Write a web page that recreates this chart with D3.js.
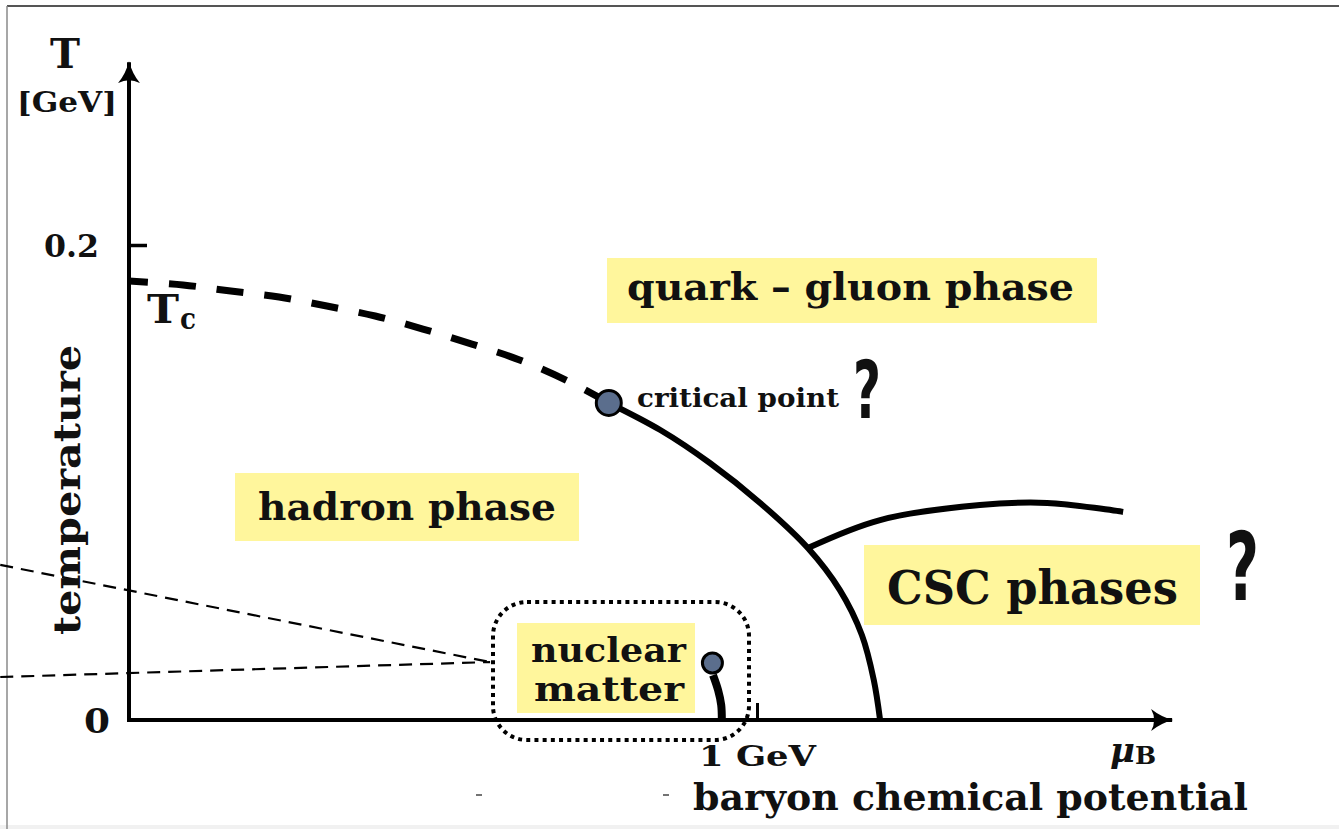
<!DOCTYPE html>
<html>
<head>
<meta charset="utf-8">
<script src="https://cdn.jsdelivr.net/npm/d3@7"></script>
<style>
  html, body { margin: 0; padding: 0; background: #fff; }
  svg { display: block; }
  text { font-family: "DejaVu Serif", serif; font-weight: bold; fill: #111; }
</style>
</head>
<body>
<div id="chart"></div>
<script>
'use strict';

// phase boundaries, [muB in GeV, T in GeV]
var crossoverLine = [[0, 0.1848], [0.086, 0.1832], [0.162, 0.1806], [0.239, 0.1781], [0.315, 0.1743],
                     [0.392, 0.1701], [0.468, 0.1646], [0.546, 0.1583], [0.622, 0.1516], [0.699, 0.1427], [0.764, 0.1335]];
var firstOrderLine = [[0.764, 0.1335], [0.846, 0.1221], [0.925, 0.1082], [1.005, 0.0914], [1.081, 0.0724],
                      [1.132, 0.0547], [1.167, 0.0358], [1.186, 0.0168], [1.196, 0]];
var cscLine = [[1.081, 0.0724], [1.196, 0.0842], [1.355, 0.0905], [1.462, 0.0914], [1.583, 0.0876]];
var nuclearLine = [[0.930, 0.0189], [0.938, 0.0126], [0.943, 0.0063], [0.944, 0]];
var criticalPoint = [0.764, 0.1335];
var nuclearPoint = [0.929, 0.0240];

// zoom lines towards the nuclear matter region
var zoomLines = [[[-0.205, 0.0653], [0.575, 0.0244]], [[-0.205, 0.0181], [0.575, 0.0244]]];

var yTicks = [0.2];
var yTickLabels = ['0.2'];
var xTicks = [1];
var xTickLabels = ['1 GeV'];
var phaseLabels = ['quark \u2013 gluon phase', 'hadron phase', 'CSC phases', 'nuclear', 'matter'];

var myApp = {};
myApp.w = 1339;
myApp.h = 829;
myApp.xMax = 1.661;
myApp.yMax = 0.277;

myApp.x = d3.scaleLinear().domain([0, 1]).range([129, 757]);
myApp.y = d3.scaleLinear().domain([0, 0.2]).range([720, 245]);

myApp.addText = function(g, str, x, y, size, width, extra) {
    var t = g.append('text')
        .attr('x', x).attr('y', y)
        .style('font-size', size + 'px')
        .text(str);
    if (width) t.attr('textLength', width).attr('lengthAdjust', 'spacingAndGlyphs');
    if (extra) extra(t);
    return t;
};

myApp.drawFrame = function(svg) {
    svg.append('rect').attr('x', 0).attr('y', 825).attr('width', myApp.w).attr('height', 4).attr('fill', '#f1f1f1');
    svg.append('line').attr('x1', 7).attr('x2', myApp.w).attr('y1', 6).attr('y2', 6)
        .attr('stroke', '#555').attr('stroke-width', 2);
    svg.append('line').attr('x1', 7).attr('x2', 7).attr('y1', 6).attr('y2', myApp.h)
        .attr('stroke', '#8a8a8a').attr('stroke-width', 1.5);
    // stray marks in the original scan
    [476, 663].forEach(function(px) {
        svg.append('line').attr('x1', px).attr('x2', px + 6).attr('y1', 795).attr('y2', 795)
            .attr('stroke', '#444').attr('stroke-width', 1.5);
    });
};

myApp.drawAxes = function(svg) {
    var x = myApp.x, y = myApp.y;

    svg.append('defs').append('marker')
        .attr('id', 'arrow')
        .attr('viewBox', '0 0 22 22')
        .attr('refX', 21).attr('refY', 11)
        .attr('markerWidth', 22).attr('markerHeight', 22)
        .attr('markerUnits', 'userSpaceOnUse')
        .attr('orient', 'auto')
        .append('path')
        .attr('d', 'M0,0 Q10,8 22,11 Q10,14 0,22 Q6,11 0,0 Z')
        .attr('fill', '#000');

    svg.append('line')
        .attr('x1', x(0)).attr('x2', x(0))
        .attr('y1', y(0) + 2).attr('y2', y(myApp.yMax))
        .attr('stroke', '#000').attr('stroke-width', 4)
        .attr('marker-end', 'url(#arrow)');
    svg.append('line')
        .attr('x1', x(0) - 2).attr('x2', x(myApp.xMax))
        .attr('y1', y(0)).attr('y2', y(0))
        .attr('stroke', '#000').attr('stroke-width', 4)
        .attr('marker-end', 'url(#arrow)');

    var yAxis = svg.append('g')
        .attr('transform', 'translate(' + x(0) + ',0)')
        .call(d3.axisRight(y).tickValues(yTicks).tickSize(18).tickFormat(''));
    yAxis.select('.domain').remove();
    yAxis.selectAll('line').attr('stroke', '#000').attr('stroke-width', 3.5);

    var xAxis = svg.append('g')
        .attr('transform', 'translate(0,' + y(0) + ')')
        .call(d3.axisTop(x).tickValues(xTicks).tickSize(17).tickFormat(''));
    xAxis.select('.domain').remove();
    xAxis.selectAll('line').attr('stroke', '#000').attr('stroke-width', 3);

    // tick labels
    myApp.addText(svg, yTickLabels[0], 44, y(yTicks[0]) + 12, 31, 55);
    myApp.addText(svg, '0', 84, y(0) + 13, 34, 26);
    myApp.addText(svg, xTickLabels[0], 699, 766, 27, 117);

    // axis titles
    myApp.addText(svg, 'T', 50, 68, 41, 30);
    myApp.addText(svg, '[GeV]', 17, 112, 27, 100);
    myApp.addText(svg, 'temperature', 0, 0, 38, 290, function(t) {
        t.attr('transform', 'translate(80,635) rotate(-90)');
    });
    var mu = svg.append('text').attr('x', 1110).attr('y', 762).style('font-size', '34px');
    mu.append('tspan').style('font-style', 'italic').text('\u03bc');
    mu.append('tspan').attr('dy', 2).style('font-size', '25px').text('B');
    myApp.addText(svg, 'baryon chemical potential', 693, 810, 37, 555);
    myApp.addText(svg, 'T', 147, 323, 40, 32);
    myApp.addText(svg, 'c', 180, 329, 30, 16);
};

myApp.drawBoxes = function(svg) {
    var boxes = [[607, 258, 490, 65], [235, 473, 344, 68], [864, 545, 336, 80], [517, 623, 178, 90]];
    svg.selectAll('rect.phase')
        .data(boxes)
        .enter()
        .append('rect')
        .attr('class', 'phase')
        .attr('x', function(d) { return d[0]; })
        .attr('y', function(d) { return d[1]; })
        .attr('width', function(d) { return d[2]; })
        .attr('height', function(d) { return d[3]; })
        .attr('fill', '#fff69c');

    myApp.addText(svg, phaseLabels[0], 627, 300, 38, 447);
    myApp.addText(svg, phaseLabels[1], 258, 520, 38, 298);
    myApp.addText(svg, phaseLabels[2], 887, 604, 46, 291);
    myApp.addText(svg, phaseLabels[3], 531, 662, 34, 155);
    myApp.addText(svg, phaseLabels[4], 534, 701, 34, 150);
};

myApp.drawLines = function(svg) {
    var x = myApp.x, y = myApp.y;
    var line = d3.line()
        .x(function(d) { return x(d[0]); })
        .y(function(d) { return y(d[1]); })
        .curve(d3.curveCatmullRom);

    svg.selectAll('path.zoom')
        .data(zoomLines)
        .enter()
        .append('path')
        .attr('class', 'zoom')
        .attr('d', d3.line().x(function(d) { return x(d[0]); }).y(function(d) { return y(d[1]); }))
        .attr('fill', 'none')
        .attr('stroke', '#000')
        .attr('stroke-width', 2.2)
        .attr('stroke-dasharray', '13,8');

    svg.append('rect')
        .attr('x', 493).attr('y', 602).attr('width', 256).attr('height', 138)
        .attr('rx', 34).attr('ry', 34)
        .attr('fill', 'none')
        .attr('stroke', '#000')
        .attr('stroke-width', 4)
        .attr('stroke-dasharray', '4,4.2');

    svg.append('path')
        .attr('d', line(crossoverLine))
        .attr('fill', 'none')
        .attr('stroke', '#000')
        .attr('stroke-width', 7)
        .attr('stroke-dasharray', '27,21')
        .attr('stroke-dashoffset', 8);

    svg.append('path')
        .attr('d', line(firstOrderLine))
        .attr('fill', 'none')
        .attr('stroke', '#000')
        .attr('stroke-width', 6);

    svg.append('path')
        .attr('d', line(cscLine))
        .attr('fill', 'none')
        .attr('stroke', '#000')
        .attr('stroke-width', 6);

    svg.append('path')
        .attr('d', line(nuclearLine))
        .attr('fill', 'none')
        .attr('stroke', '#000')
        .attr('stroke-width', 8);

    svg.selectAll('circle.point')
        .data([[criticalPoint, 12.5], [nuclearPoint, 10]])
        .enter()
        .append('circle')
        .attr('class', 'point')
        .attr('cx', function(d) { return x(d[0][0]); })
        .attr('cy', function(d) { return y(d[0][1]); })
        .attr('r', function(d) { return d[1]; })
        .attr('fill', '#5b6e8d')
        .attr('stroke', '#000')
        .attr('stroke-width', 3);

    myApp.addText(svg, 'critical point', 637, 407, 26, 202);

    var q = function(t) {
        t.style('font-family', '"Liberation Sans Narrow", "DejaVu Sans Condensed", sans-serif');
    };
    myApp.addText(svg, '?', 853, 418, 80, 28, q);
    myApp.addText(svg, '?', 1226, 600, 94, 33, q);
};

myApp.run = function() {
    var svg = d3.select('#chart').append('svg')
        .attr('width', myApp.w)
        .attr('height', myApp.h);
    myApp.drawFrame(svg);
    myApp.drawBoxes(svg);
    myApp.drawLines(svg);
    myApp.drawAxes(svg);
};

myApp.run();
</script>
</body>
</html>
